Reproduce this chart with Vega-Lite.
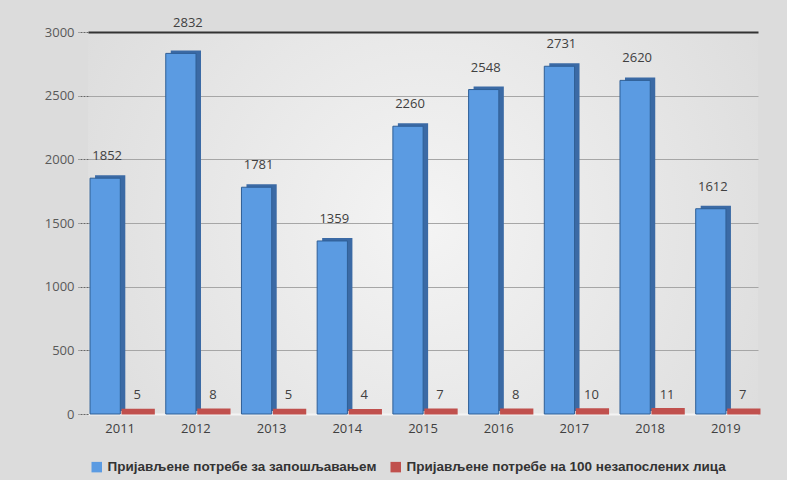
{
  "$schema": "https://vega.github.io/schema/vega-lite/v6.json",
  "width": 670,
  "height": 382,
  "autosize": {"type": "none"},
  "padding": {"left": 88, "top": 32, "right": 29, "bottom": 66},
  "background": "#dcdcdc",
  "view": {"stroke": null, "fill": {"gradient": "radial", "x1": 0.5, "y1": 0.5, "x2": 0.5, "y2": 0.5, "r1": 0, "r2": 0.75, "stops": [{"offset": 0, "color": "#f4f4f4"}, {"offset": 1, "color": "#d6d6d6"}]}},
  "config": {"font": "Open Sans"},
  "data": {
    "values": [
      {"year": "2011", "series": "Пријављене потребе за запошљавањем", "value": 1852},
      {"year": "2012", "series": "Пријављене потребе за запошљавањем", "value": 2832},
      {"year": "2013", "series": "Пријављене потребе за запошљавањем", "value": 1781},
      {"year": "2014", "series": "Пријављене потребе за запошљавањем", "value": 1359},
      {"year": "2015", "series": "Пријављене потребе за запошљавањем", "value": 2260},
      {"year": "2016", "series": "Пријављене потребе за запошљавањем", "value": 2548},
      {"year": "2017", "series": "Пријављене потребе за запошљавањем", "value": 2731},
      {"year": "2018", "series": "Пријављене потребе за запошљавањем", "value": 2620},
      {"year": "2019", "series": "Пријављене потребе за запошљавањем", "value": 1612},
      {"year": "2011", "series": "Пријављене потребе на 100 незапослених лица", "value": 5},
      {"year": "2012", "series": "Пријављене потребе на 100 незапослених лица", "value": 8},
      {"year": "2013", "series": "Пријављене потребе на 100 незапослених лица", "value": 5},
      {"year": "2014", "series": "Пријављене потребе на 100 незапослених лица", "value": 4},
      {"year": "2015", "series": "Пријављене потребе на 100 незапослених лица", "value": 7},
      {"year": "2016", "series": "Пријављене потребе на 100 незапослених лица", "value": 8},
      {"year": "2017", "series": "Пријављене потребе на 100 незапослених лица", "value": 10},
      {"year": "2018", "series": "Пријављене потребе на 100 незапослених лица", "value": 11},
      {"year": "2019", "series": "Пријављене потребе на 100 незапослених лица", "value": 7}
    ]
  },
  "encoding": {
    "x": {
      "field": "year", "type": "ordinal",
      "scale": {"paddingInner": 0.15, "paddingOuter": 0},
      "axis": {"title": null, "labelAngle": 0, "labelFontSize": 13, "labelColor": "#404040", "labelPadding": 8, "ticks": false, "domainColor": "#f4f4f4", "domainWidth": 2}
    },
    "y": {
      "field": "value", "type": "quantitative",
      "scale": {"domain": [0, 3000]},
      "axis": {"title": null, "values": [0, 500, 1000, 1500, 2000, 2500, 3000], "format": "d", "labelFontSize": 13, "labelColor": "#595959", "labelPadding": 4, "domain": false, "tickSize": 10, "tickDash": [2, 1], "tickColor": "#666666",
        "gridColor": {"condition": {"test": "datum.value === 3000", "value": "#333333"}, "value": "#a6a6a6"},
        "gridWidth": {"condition": {"test": "datum.value === 3000", "value": 2}, "value": 1}}
    },
    "color": {
      "field": "series", "type": "nominal",
      "scale": {"domain": ["Пријављене потребе за запошљавањем", "Пријављене потребе на 100 незапослених лица"], "range": ["#5b9be2", "#c0504d"]},
      "legend": {"title": null, "orient": "none", "legendX": 2, "legendY": 428, "direction": "horizontal", "symbolType": "square", "symbolSize": 110, "symbolStrokeWidth": 0, "labelFont": "Liberation Sans", "labelFontWeight": "bold", "labelFontSize": 13.5, "labelColor": "#333333", "labelLimit": 400, "columnPadding": 12, "symbolOffset": 0}
    }
  },
  "layer": [
    {
      "transform": [{"filter": "datum.series === 'Пријављене потребе за запошљавањем'"}],
      "mark": {"type": "bar", "width": {"band": 0.47}, "xOffset": -10, "yOffset": -3, "color": "#3b6aa5"},
      "encoding": {"color": {"value": "#3b6aa5"}}
    },
    {
      "transform": [{"filter": "datum.series === 'Пријављене потребе за запошљавањем'"}],
      "mark": {"type": "bar", "width": {"band": 0.47}, "xOffset": -15, "stroke": "#2f5f96", "strokeWidth": 1}
    },
    {
      "transform": [{"filter": "datum.series !== 'Пријављене потребе за запошљавањем'"}],
      "mark": {"type": "bar", "width": {"band": 0.44}, "xOffset": 18, "yOffset": -2, "stroke": "#c0504d", "strokeWidth": 5}
    },
    {
      "transform": [{"filter": "datum.series === 'Пријављене потребе за запошљавањем' && datum.value < 2800"}],
      "mark": {"type": "text", "dy": -22, "xOffset": -13, "fontSize": 13, "color": "#404040"},
      "encoding": {"text": {"field": "value", "type": "quantitative"}, "color": {"value": "#404040"}}
    },
    {
      "transform": [{"filter": "datum.series === 'Пријављене потребе за запошљавањем' && datum.value >= 2800"}],
      "mark": {"type": "text", "dy": -30, "xOffset": -8, "fontSize": 13, "color": "#404040"},
      "encoding": {"text": {"field": "value", "type": "quantitative"}, "color": {"value": "#404040"}}
    },
    {
      "transform": [{"filter": "datum.series !== 'Пријављене потребе за запошљавањем'"}],
      "mark": {"type": "text", "dy": -18, "xOffset": 17, "fontSize": 13, "color": "#404040"},
      "encoding": {"text": {"field": "value", "type": "quantitative"}, "color": {"value": "#404040"}}
    }
  ]
}
